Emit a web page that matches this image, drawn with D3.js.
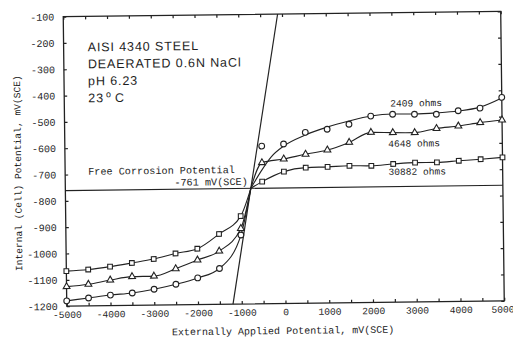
<!DOCTYPE html>
<html>
<head>
<meta charset="utf-8">
<script src="https://cdn.jsdelivr.net/npm/d3@7/dist/d3.min.js"></script>
<style>
  html, body { margin: 0; padding: 0; background: #fff; }
  svg { display: block; }
  .mono { font-family: "Liberation Mono", "DejaVu Sans Mono", monospace; fill: #1e1e1e; }
  .sans { font-family: "Liberation Sans", Arial, sans-serif; fill: #1e1e1e; }
</style>
</head>
<body>
<svg id="chart" width="513" height="338"></svg>
<script>
// Externally applied potential, mV(SCE)
const appliedPotential = [-5000, -4500, -4000, -3500, -3000, -2500, -2000, -1500, -1000,
  -500, 0, 500, 1000, 1500, 2000, 2500, 3000, 3500, 4000, 4500, 5000];

// Internal (cell) potential, mV(SCE), for each solution resistance
const cell2409 = [-1180, -1170, -1160, -1153, -1140, -1122, -1099, -1064, -938,
  -601, -594, -551, -540, -522, -492, -486, -487, -488, -476, -467, -427];
const cell4648 = [-1126, -1118, -1103, -1091, -1090, -1063, -1031, -998, -913,
  -664, -651, -634, -619, -591, -554, -556, -557, -542, -534, -522, -513];
const cell30882 = [-1067, -1062, -1052, -1039, -1025, -1005, -988, -933, -866,
  -736, -699, -685, -683, -680, -681, -675, -671, -671, -666, -661, -655];

// smoothed anodic curve for the 2409 ohm run
const fitApplied2409 = [-761, -520, -290, 0, 500, 1000, 1500, 2000, 2500, 3000, 3500, 4000, 4500, 5000];
const fitCell2409 = [-761, -696, -643, -602, -561, -532, -510, -492, -485, -486, -483, -477, -463, -429];

const seriesNames = ["2409 ohms", "4648 ohms", "30882 ohms"];
const seriesMarkers = ["circle", "triangle", "square"];
const labelAt = [[2450, -457], [2390, -610], [2390, -717]];   // label anchor (mV, mV)

const freeCorrosion = -761;          // mV(SCE)
const unityRange = [-1200, -100];    // internal = applied

const xTicks = d3.range(-5000, 5001, 500);
const xLabels = [-5000, -4000, -3000, -2000, -1000, 0, 1000, 2000, 3000, 4000, 5000];
const yTicks = d3.range(-1200, -99, 100);

const infoLines = ["AISI 4340 STEEL", "DEAERATED 0.6N NaCl", "pH 6.23"];

// ---- layout ----
const svg = d3.select("#chart");
const L = 65, R = 502.5, T = 14, B = 303.5;

const x = d3.scaleLinear().domain([-5000, 5000]).range([L, R]);
const y = d3.scaleLinear().domain([-1200, -100]).range([B, T]);

const ink = "#222";
const root = svg.append("g").attr("transform", "rotate(-0.7 281 159)");

// frame
root.append("rect")
  .attr("x", L).attr("y", T).attr("width", R - L).attr("height", B - T)
  .attr("fill", "none").attr("stroke", ink).attr("stroke-width", 1.3);

const fmt = d => xLabels.includes(d) ? String(d) : "";

// bottom axis (inward ticks, labels every 1000)
const gx = root.append("g").attr("transform", `translate(0,${B})`)
  .call(d3.axisBottom(x).tickValues(xTicks).tickSize(-3).tickPadding(5).tickFormat(fmt));
// top axis, marks only
const gt = root.append("g").attr("transform", `translate(0,${T})`)
  .call(d3.axisTop(x).tickValues(xTicks).tickSize(-3).tickFormat(""));
// left axis with labels
const gy = root.append("g").attr("transform", `translate(${L},0)`)
  .call(d3.axisLeft(y).tickValues(yTicks).tickSize(-3).tickPadding(9).tickFormat(d => String(d)));
// right axis, marks only
const gr = root.append("g").attr("transform", `translate(${R},0)`)
  .call(d3.axisRight(y).tickValues(yTicks).tickSize(-3).tickFormat(""));

[gx, gt, gy, gr].forEach(g => {
  g.select(".domain").remove();
  g.selectAll(".tick line").attr("stroke", ink).attr("stroke-width", 1.2);
  g.selectAll("text").attr("class", "mono").attr("font-size", 9.6).attr("fill", "#1e1e1e");
});
gx.selectAll(".tick text").filter(d => d === 5000).attr("dx", -2);
gy.selectAll(".tick text").attr("font-size", 10);

// free corrosion potential line
root.append("line")
  .attr("x1", L).attr("x2", R)
  .attr("y1", y(freeCorrosion)).attr("y2", y(freeCorrosion))
  .attr("stroke", ink).attr("stroke-width", 1.2);

// unity line (internal = applied)
root.append("line")
  .attr("x1", x(unityRange[0])).attr("y1", y(unityRange[0]))
  .attr("x2", x(unityRange[1])).attr("y2", y(unityRange[1]))
  .attr("stroke", ink).attr("stroke-width", 1.2);

// curves: each branch starts at the free corrosion point
const allSeries = [cell2409, cell4648, cell30882];
const line = d3.line().x(d => x(d[0])).y(d => y(d[1])).curve(d3.curveMonotoneX);
const drawPath = pts => root.append("path").attr("d", line(pts))
  .attr("fill", "none").attr("stroke", ink).attr("stroke-width", 1.1);

allSeries.forEach((vals, s) => {
  const pts = appliedPotential.map((a, i) => [a, vals[i]]);
  drawPath([...pts.filter(p => p[0] < freeCorrosion), [freeCorrosion, freeCorrosion]]);
  if (s === 0) {
    drawPath(fitApplied2409.map((a, i) => [a, fitCell2409[i]]));
  } else {
    drawPath([[freeCorrosion, freeCorrosion], ...pts.filter(p => p[0] > freeCorrosion)]);
  }
});

// markers
const symbolType = { circle: d3.symbolCircle, triangle: d3.symbolTriangle, square: d3.symbolSquare };
const symbolSize = { circle: 26, triangle: 20, square: 22 };
allSeries.forEach((vals, s) => {
  const kind = seriesMarkers[s];
  const gen = d3.symbol().type(symbolType[kind]).size(symbolSize[kind]);
  root.append("g").selectAll("path")
    .data(appliedPotential.map((a, i) => [a, vals[i]]))
    .join("path")
    .attr("d", gen)
    .attr("transform", d => `translate(${x(d[0])},${y(d[1])})`)
    .attr("fill", "#fff").attr("stroke", ink).attr("stroke-width", 1.1);
});

// series labels
seriesNames.forEach((n, i) => {
  root.append("text").attr("class", "mono").attr("font-size", 9.6)
    .attr("x", x(labelAt[i][0])).attr("y", y(labelAt[i][1]))
    .text(n);
});

// free corrosion annotation
root.append("text").attr("class", "mono").attr("font-size", 10.2)
  .attr("x", 88).attr("y", y(freeCorrosion) - 15.5).text("Free Corrosion Potential");
root.append("text").attr("class", "mono").attr("font-size", 10.2)
  .attr("text-anchor", "end")
  .attr("x", x(freeCorrosion) - 3).attr("y", y(freeCorrosion) - 3.5)
  .text(`${freeCorrosion} mV(SCE)`);

// specimen info block
infoLines.forEach((t, i) => {
  root.append("text").attr("class", "sans").attr("font-size", 12.5)
    .attr("letter-spacing", 0.9)
    .attr("x", 89).attr("y", 49 + i * 17).text(t);
});
const temp = root.append("text").attr("class", "sans").attr("font-size", 12.5)
  .attr("letter-spacing", 0.9).attr("x", 89).attr("y", 49 + 3 * 17);
temp.append("tspan").text("23");
temp.append("tspan").attr("font-size", 9).attr("dy", -5).attr("dx", 2).text("o");
temp.append("tspan").attr("dy", 5).attr("dx", 3).text("C");

// axis titles
root.append("text").attr("class", "mono").attr("font-size", 10)
  .attr("text-anchor", "middle").attr("x", 281).attr("y", 334)
  .text("Externally Applied Potential, mV(SCE)");
root.append("text").attr("class", "mono").attr("font-size", 9.6)
  .attr("text-anchor", "middle")
  .attr("transform", "translate(21,170) rotate(-90)")
  .text("Internal (Cell) Potential, mV(SCE)");
</script>
</body>
</html>
